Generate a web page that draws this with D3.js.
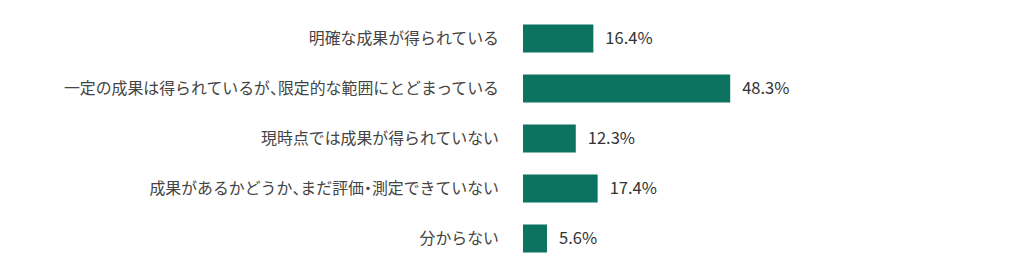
<!DOCTYPE html>
<html>
<head>
<meta charset="utf-8">
<script src="https://cdn.jsdelivr.net/npm/d3@7"></script>
<style>
  body { margin: 0; background: #fff; }
  svg { display: block; }
  .punct { font-feature-settings: "halt"; }
</style>
</head>
<body>
<div id="chart"></div>
<script>
// chart data
var categories = [
  '明確な成果が得られている',
  '一定の成果は得られているが、限定的な範囲にとどまっている',
  '現時点では成果が得られていない',
  '成果があるかどうか、まだ評価・測定できていない',
  '分からない'
];
var values = [16.4, 48.3, 12.3, 17.4, 5.6];

var width = 1024, height = 278;
var left = 523;

var svg = d3.select('#chart')
  .append('svg')
  .attr('width', width)
  .attr('height', height);

var x = d3.scaleLinear()
  .domain([0, 100])
  .range([left, left + 429]);

var y = d3.scaleBand()
  .domain(categories)
  .range([13.5, 263.5])
  .paddingInner(0.44)
  .paddingOuter(0.22);

// bars
svg.selectAll('.bar')
  .data(values)
  .enter()
  .append('rect')
  .attr('class', 'bar')
  .attr('x', x(0))
  .attr('y', function(d, i) { return y(categories[i]); })
  .attr('width', function(d) { return x(d) - x(0); })
  .attr('height', y.bandwidth())
  .attr('fill', '#0b7360');

// value labels
svg.selectAll('.val')
  .data(values)
  .enter()
  .append('text')
  .attr('class', 'val')
  .attr('x', function(d) { return x(d) + 12; })
  .attr('y', function(d, i) { return y(categories[i]) + y.bandwidth() / 2; })
  .attr('dy', '0.36em')
  .style('font-family', '"Noto Sans CJK JP", "Noto Sans", sans-serif')
  .style('font-size', '16.5px')
  .style('fill', '#333')
  .text(function(d) { return d.toFixed(1) + '%'; });

// category axis, no line or ticks
var axis = svg.append('g')
  .attr('transform', 'translate(' + (left - 24) + ',0)')
  .call(d3.axisLeft(y).tickSize(0).tickPadding(0));
axis.select('.domain').remove();
axis.selectAll('text')
  .style('font-family', '"Noto Sans CJK JP", sans-serif')
  .style('font-size', '15.9px')
  .style('fill', '#444')
  .each(function(d) {
    // half-width punctuation like the original
    var t = d3.select(this).text('');
    d.split(/([、・])/).forEach(function(part) {
      if (!part) return;
      t.append('tspan')
        .attr('class', /[、・]/.test(part) ? 'punct' : null)
        .text(part);
    });
  });
</script>
</body>
</html>
